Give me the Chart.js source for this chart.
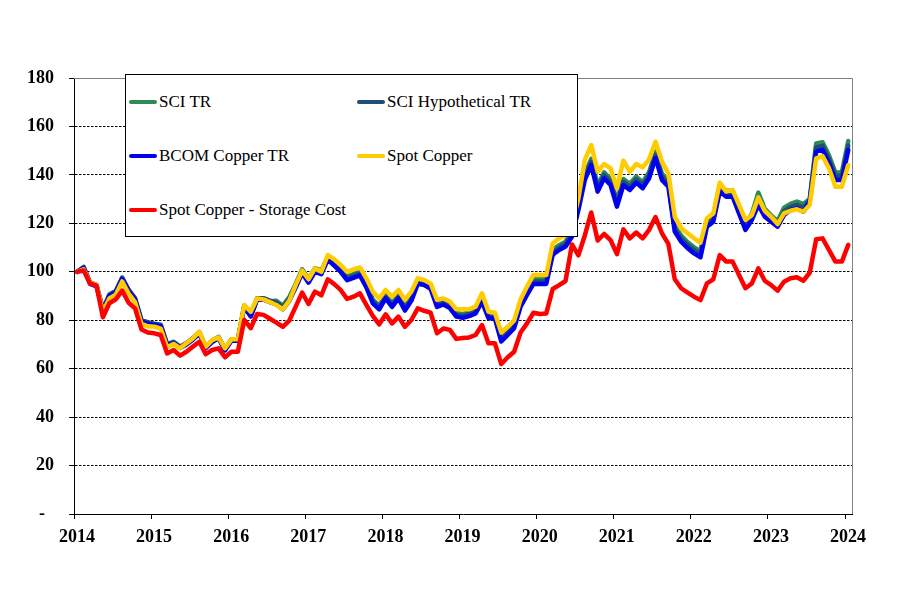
<!DOCTYPE html>
<html>
<head>
<meta charset="utf-8">
<script src="https://cdn.jsdelivr.net/npm/chart.js@4"></script>
<style>
    body { margin: 0; background: #fff; }
    #wrap { position: relative; width: 900px; height: 611px; }
    #legend {
        position: absolute; left: 125px; top: 74px; width: 453px; height: 163px;
        box-sizing: border-box; border: 1px solid #000; background: #fff;
        display: grid; grid-template-columns: 228px 1fr; grid-auto-rows: 54px;
        padding-left: 3px;
        font-family: "Times New Roman", "Liberation Serif", serif; font-size: 17px; color: #000;
    }
    .item { display: flex; align-items: center; white-space: nowrap; }
    .swatch { width: 28px; height: 4px; border-radius: 2px; margin-right: 2px; }
</style>
</head>
<body>
<div id="wrap">
    <canvas id="chart" width="900" height="611"></canvas>
    <div id="legend"></div>
</div>
<script>
const startYear = 2014;
const yearTicks = [2014, 2015, 2016, 2017, 2018, 2019, 2020, 2021, 2022, 2023, 2024];

const seriesNames = ["SCI TR", "SCI Hypothetical TR", "BCOM Copper TR", "Spot Copper", "Spot Copper - Storage Cost"];
const seriesColors = ["#2e8b57", "#1f4e79", "#0000ee", "#ffcc00", "#ff0000"];

// monthly index values, Jan 2014 .. Jan 2024
const sciTR = [
    100, 101.8, 95.3, 94.3, 84.3, 90.3, 91.8, 97.3, 92.3, 88.8,
    79.8, 78.8, 78.3, 77.8, 69.8, 70.8, 68.8, 70.3, 72.3, 74.8,
    68.8, 71.3, 72.8, 67.8, 71.8, 71.8, 85.8, 81.8, 88.8, 88.8,
    87.8, 88, 86, 89.5, 95, 101, 97, 101.5, 100.5, 106,
    104, 101.5, 98, 99, 100, 95, 88.5, 86, 90.5, 87,
    90.5, 85.5, 89.5, 96.5, 96, 94.5, 87, 88, 86.5, 83,
    82.5, 83.5, 84.6, 89.5, 82.6, 82.6, 73, 75.7, 78.5, 87.4,
    92.2, 97, 97, 97, 109, 111, 112.4, 117, 128, 140.4,
    146.6, 135.6, 141.1, 138.3, 129.4, 138.3, 136.3, 139.3, 137, 141.1,
    149.5, 140.4, 137.6, 119.1, 114.9, 112.2, 110.1, 108.5, 121.1, 123.2,
    135.8, 133.5, 133.5, 126.6, 119.8, 124, 132.7, 126, 123.3, 120.8,
    126.5, 128, 129, 128, 130, 153, 153.5, 148, 141, 141,
    154
];

const sciHypTR = [
    100, 102, 95.6, 94.6, 84.6, 90.6, 92.1, 97.6, 92.6, 89.1,
    80.1, 79.1, 78.6, 78.1, 70.1, 71.1, 69.1, 70.6, 72.6, 75.1,
    69.1, 71.6, 73.1, 68.1, 72.1, 72.1, 86.1, 82.1, 89.1, 89.1,
    88.1, 87.3, 85.3, 88.8, 94.3, 100.3, 96.3, 100.8, 99.8, 105.8,
    103.3, 100.8, 97.3, 98.3, 99.3, 94.3, 87.8, 85.3, 89.8, 86.3,
    89.8, 84.8, 88.8, 95.8, 95.3, 93.8, 86.3, 87.3, 85.8, 82.3,
    81.8, 82.7, 83.8, 88.7, 81.8, 81.8, 72.2, 74.9, 77.7, 86.6,
    91.4, 96, 96, 96, 108, 110, 111.4, 115.8, 126.8, 139.2,
    145.4, 134.4, 139.9, 137.1, 128.2, 137.1, 135.1, 138.1, 135.8, 139.9,
    148.3, 139.2, 136.4, 117.9, 113.7, 111, 108.9, 107.3, 119.9, 122,
    134.4, 132.2, 132.2, 125.3, 118.5, 122.7, 130, 124.3, 122, 119.7,
    125, 126.7, 127.6, 126.4, 129.5, 151.3, 152, 146.4, 139.5, 139.5,
    152.1
];

const bcomCopperTR = [
    100, 101.5, 95, 94, 84, 90, 91.5, 97, 92, 88.5,
    79.5, 78.5, 78, 77.5, 69.5, 70.5, 68.5, 70, 72, 74.5,
    68.5, 71, 72.5, 67.5, 71.5, 71.5, 85.5, 81.5, 88.5, 88.5,
    87.5, 86.5, 84.5, 88, 93.5, 99.5, 95.5, 100, 99, 105,
    102.5, 100, 96.5, 97.5, 98.5, 93.5, 87, 84.5, 89, 85.5,
    89, 84, 88, 95, 94.5, 93, 85.5, 86.5, 85, 81.5,
    81, 81.7, 82.8, 87.7, 80.8, 80.8, 71.2, 73.9, 76.7, 85.6,
    90.4, 95, 95, 95, 107, 109, 110.4, 114.5, 125.5, 137.9,
    144.1, 133.1, 138.6, 135.8, 126.9, 135.8, 133.8, 136.8, 134.5, 138.6,
    147, 137.9, 135.1, 116.6, 112.4, 109.7, 107.6, 106, 118.6, 120.7,
    133.1, 131, 131, 124.1, 117.3, 121.4, 127.6, 122.7, 120.7, 118.6,
    123.4, 125.5, 126.2, 124.8, 129, 149.6, 150.3, 144.8, 137.9, 137.9,
    150.3
];

const spotCopper = [
    100, 101, 95.5, 94.5, 83.5, 89, 90.5, 96, 91, 87.5,
    78.5, 77.5, 77.3, 76.5, 68.8, 70.2, 68.4, 70.5, 72.5, 75.3,
    69.1, 71.8, 72.9, 68.4, 72.1, 72.1, 86.3, 83.5, 89, 88.6,
    87.5, 86.3, 84.5, 88.1, 94.5, 100.5, 96.9, 101.4, 100, 106.9,
    105.1, 102.8, 100, 101, 101.8, 97.3, 91.8, 89, 92.5, 89.7,
    92.5, 88.4, 91.8, 97.3, 96.6, 95.2, 88.4, 89, 87.7, 84.5,
    84.5, 84.5, 85.6, 91.1, 83.5, 83.1, 74.9, 77.3, 79.8, 88.6,
    93.9, 98.7, 98.7, 98.7, 111.7, 113.8, 115.2, 119.3, 130.3, 146.2,
    152.3, 141.3, 144.5, 142.7, 134.5, 145.9, 141.3, 144.5, 143.1, 146.4,
    153.7, 145.5, 140.6, 122.7, 117.9, 115.9, 113.8, 112, 122.1, 124.1,
    136.8, 133.1, 133.8, 127.6, 121.4, 123.4, 130.7, 125.2, 122.7, 119.7,
    124.1, 125.2, 125.8, 124.8, 127.6, 146.8, 147.8, 142.7, 135.1, 135.1,
    144.1
];

const spotMinusStorage = [
    100, 100.5, 95.2, 94.3, 81.2, 87, 88.6, 92.2, 87.2, 84.9,
    76.2, 74.9, 74.6, 73.9, 66.3, 67.7, 65.4, 67, 69.1, 71.1,
    66, 67.7, 68.4, 64.7, 67, 67, 80.1, 76.7, 82.6, 82.2,
    80.6, 79, 77.3, 79.8, 85.6, 91.4, 86.7, 91.8, 90.3, 96.9,
    94.9, 92.5, 88.8, 89.7, 91.1, 86.3, 81.8, 78.3, 82.4, 78.7,
    81.5, 77.3, 80.1, 84.9, 83.9, 83.1, 74.6, 76.6, 76, 72.3,
    72.7, 72.9, 73.9, 78, 70.5, 70.5, 61.9, 64.7, 67, 74.9,
    78.7, 83.1, 82.6, 82.8, 92.9, 94.5, 96.2, 111.3, 106.8, 115,
    124.5, 112.9, 115.6, 113.1, 107.3, 117.5, 113.8, 116.2, 113.8, 117.3,
    122.6, 115.9, 111.5, 96.9, 93.2, 91.4, 89.7, 88.3, 95.2, 96.9,
    106.9, 104.2, 104.2, 98.7, 93.2, 95.2, 101.4, 96.3, 94.5, 92.2,
    95.9, 97.3, 97.7, 96.3, 99.6, 113.4, 113.8, 109, 104.2, 104.2,
    111.1
];

const allSeries = [sciTR, sciHypTR, bcomCopperTR, spotCopper, spotMinusStorage];
// lower order is drawn on top: red over yellow over blue ...
const drawOrder = [4, 3, 2, 1, 0];

// mid-month dates as fractional years
const dates = sciTR.map((_, i) => startYear + (i + 0.5) / 12);

const serifFont = "'Times New Roman', 'Liberation Serif', serif";

function buildLegend() {
    const box = document.getElementById("legend");
    box.innerHTML = "";
    seriesNames.forEach((name, i) => {
        const item = document.createElement("div");
        item.className = "item";
        item.innerHTML = `<span class="swatch" style="background:${seriesColors[i]}"></span><span>${name}</span>`;
        box.appendChild(item);
    });
}

const frameLines = {
    id: "frameLines",
    beforeDatasetsDraw(chart) {
        const { ctx, chartArea: a } = chart;
        ctx.save();
        ctx.strokeStyle = "#808080";
        ctx.lineWidth = 1;
        ctx.beginPath();
        ctx.moveTo(a.left, a.top + 0.5);
        ctx.lineTo(a.right + 0.5, a.top + 0.5);
        ctx.lineTo(a.right + 0.5, a.bottom);
        ctx.stroke();
        ctx.restore();
    }
};

let copperChart;

function renderChart() {
    const ctx = document.getElementById("chart");

    if (copperChart) copperChart.destroy();

    copperChart = new Chart(ctx, {
        type: "line",
        data: {
            datasets: allSeries.map((vals, i) => ({
                label: seriesNames[i],
                data: vals.map((v, k) => ({ x: dates[k], y: v })),
                borderColor: seriesColors[i],
                backgroundColor: seriesColors[i],
                borderWidth: 4.5,
                pointRadius: 0,
                tension: 0,
                borderJoinStyle: "round",
                borderCapStyle: "round",
                order: drawOrder[i]
            }))
        },
        options: {
            responsive: false,
            animation: false,
            layout: { padding: { top: 78, right: 48, left: 0, bottom: 0 } },
            plugins: {
                legend: { display: false },
                tooltip: { enabled: false }
            },
            scales: {
                x: {
                    type: "linear",
                    min: 2014,
                    max: 2024.09,
                    afterBuildTicks: axis => {
                        axis.ticks = yearTicks.map(v => ({ value: v }));
                    },
                    afterFit: axis => { axis.height = 97; },
                    grid: { drawOnChartArea: false, drawTicks: true, tickLength: 5, tickColor: "#000" },
                    border: { color: "#000", width: 1 },
                    ticks: {
                        maxRotation: 0,
                        autoSkip: false,
                        padding: 8,
                        labelOffset: 3,
                        color: "#000",
                        font: { family: serifFont, size: 18, weight: "bold" },
                        callback: v => String(v)
                    }
                },
                y: {
                    min: 0,
                    max: 180,
                    afterFit: axis => { axis.width = 74; },
                    grid: {
                        color: c => (c.tick && (c.tick.value === 0 || c.tick.value === 180)) ? "rgba(0,0,0,0)" : "#000",
                        tickColor: "#000",
                        tickLength: 5,
                        lineWidth: 1
                    },
                    border: { color: "#000", width: 1, dash: [2.5, 1.5] },
                    ticks: {
                        stepSize: 20,
                        padding: 15,
                        color: "#000",
                        font: { family: serifFont, size: 18, weight: "bold" },
                        callback: v => v === 0 ? "-\u2007" : v
                    }
                }
            }
        },
        plugins: [frameLines]
    });
}

document.addEventListener("DOMContentLoaded", () => {
    buildLegend();
    renderChart();
});
</script>
</body>
</html>
